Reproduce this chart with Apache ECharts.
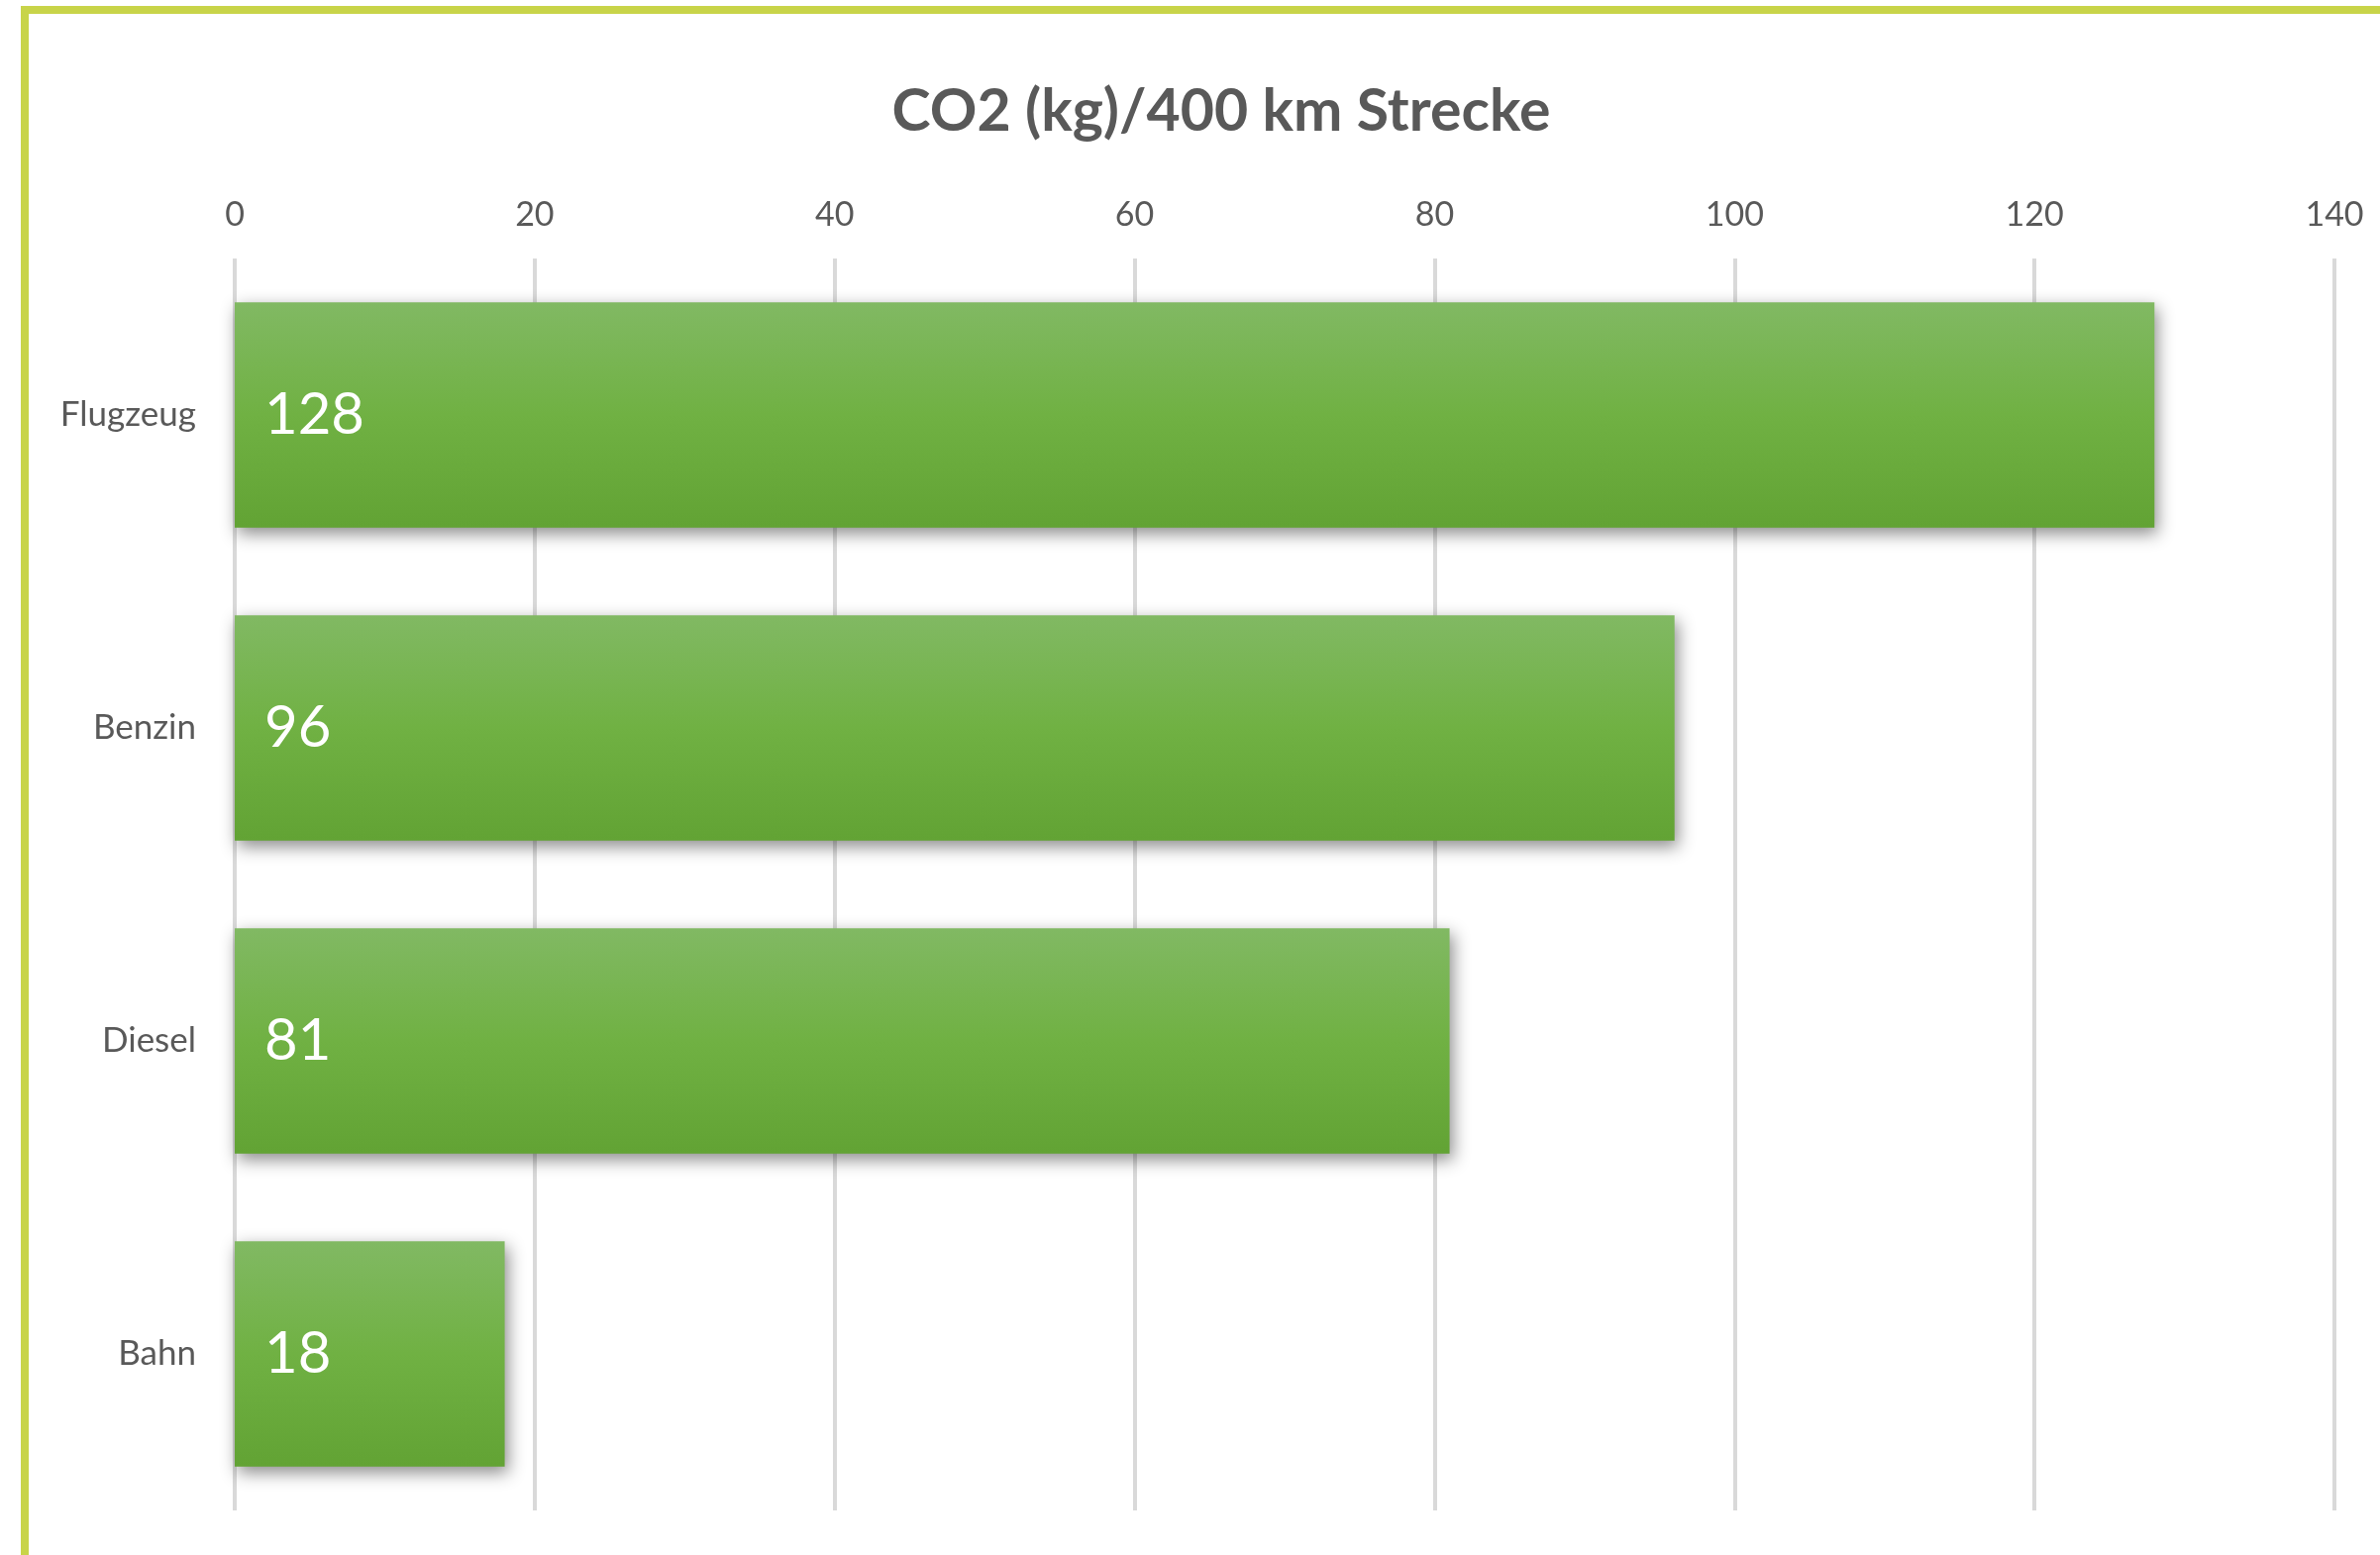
<!DOCTYPE html>
<html>
<head>
<meta charset="utf-8">
<style>
  html, body { margin: 0; padding: 0; background: #fff; }
  #chart { width: 2403px; height: 1570px; }
</style>
<script src="https://cdn.jsdelivr.net/npm/echarts@6/dist/echarts.min.js"></script>
</head>
<body>
<div id="chart"></div>
<script>
const title = "CO2 (kg)/400 km Strecke";
const categories = ["Flugzeug", "Benzin", "Diesel", "Bahn"];
const values = [128, 96, 81, 18];

const textColor = "#595959";
const font = "Lato, 'Open Sans', sans-serif";

const chart = echarts.init(document.getElementById("chart"));

chart.setOption({
  animation: false,
  backgroundColor: "#fff",
  title: {
    text: title,
    left: 1228,
    textAlign: "center",
    top: 78,
    textStyle: { color: textColor, fontFamily: font, fontWeight: "bold", fontSize: 59 }
  },
  // frame around the chart, cut off at right and bottom
  graphic: [{
    type: "rect",
    shape: { x: 25, y: 10, width: 3000, height: 3000 },
    style: { fill: "none", stroke: "#c8d449", lineWidth: 8 },
    silent: true
  }],
  grid: { left: 237, right: 46, top: 261, bottom: 45 },
  xAxis: {
    type: "value",
    position: "top",
    min: 0,
    max: 140,
    interval: 20,
    axisLine: { show: false },
    axisTick: { show: false },
    axisLabel: { color: textColor, fontFamily: font, fontSize: 34, margin: 27 },
    splitLine: { lineStyle: { color: "#d9d9d9", width: 4 } }
  },
  yAxis: {
    type: "category",
    inverse: true,
    data: categories,
    axisLine: { show: false },
    axisTick: { show: false },
    axisLabel: { color: textColor, fontFamily: font, fontSize: 35, margin: 39 }
  },
  series: [{
    type: "bar",
    data: values,
    barCategoryGap: "28%",
    itemStyle: {
      color: new echarts.graphic.LinearGradient(0, 0, 0, 1, [
        { offset: 0, color: "#81b963" },
        { offset: 0.5, color: "#70b143" },
        { offset: 1, color: "#62a334" }
      ]),
      shadowColor: "rgba(0,0,0,0.45)",
      shadowBlur: 16,
      shadowOffsetX: 3,
      shadowOffsetY: 6
    },
    label: {
      show: true,
      position: "insideLeft",
      distance: 30,
      color: "#fff",
      fontFamily: font,
      fontSize: 58
    }
  }]
});
</script>
</body>
</html>
